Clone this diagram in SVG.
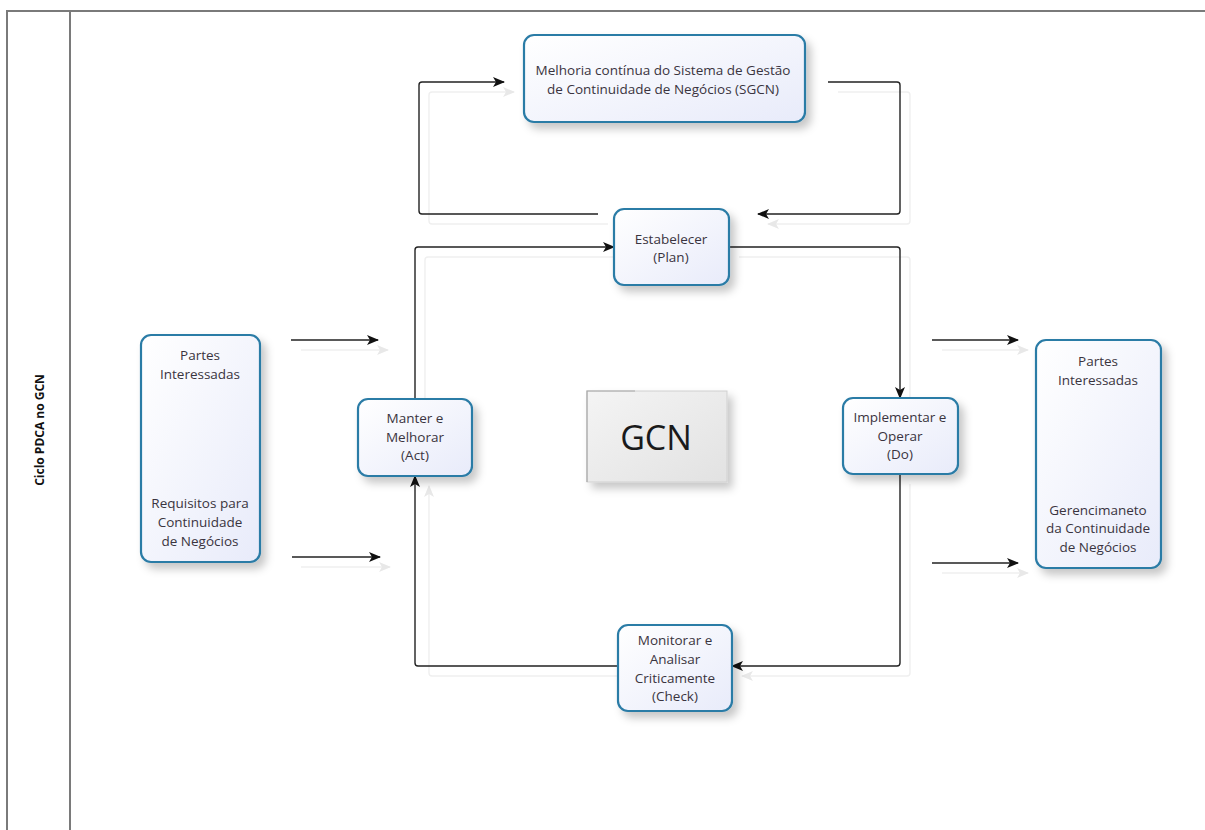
<svg xmlns="http://www.w3.org/2000/svg" width="1205" height="830" viewBox="0 0 1205 830">
<style>
.frame{fill:none;stroke:#7a7a7a;stroke-width:2}
.box{fill:url(#boxg);stroke:#2b7ba6;stroke-width:2.2;filter:url(#sh)}
.t{font-family:"Open Sans","Noto Sans",sans-serif;font-size:13.5px;fill:#3a3440;text-anchor:middle}
.c{fill:none;stroke:#222;stroke-width:1.4}
.s{fill:none;stroke:#efefef;stroke-width:1.4}
.title{font-family:"Open Sans","Noto Sans",sans-serif;font-size:12px;font-weight:bold;fill:#111;text-anchor:middle}
</style>
<defs>
<linearGradient id="boxg" x1="0" y1="0" x2="1" y2="1">
<stop offset="0" stop-color="#ffffff"/>
<stop offset="1" stop-color="#e8ebfa"/>
</linearGradient>
<linearGradient id="gcng" x1="0" y1="0" x2="1" y2="1">
<stop offset="0" stop-color="#f4f4f4"/>
<stop offset="1" stop-color="#e2e2e2"/>
</linearGradient>
<filter id="sh" x="-20%" y="-20%" width="150%" height="150%">
<feDropShadow dx="5" dy="6" stdDeviation="4" flood-color="#000" flood-opacity="0.22"/>
</filter>
<marker id="ah" viewBox="0 0 12 10" refX="11" refY="5" markerWidth="12" markerHeight="10" markerUnits="userSpaceOnUse" orient="auto">
<path d="M0,0 L12,5 L0,10 L3,5 z" fill="#111"/>
</marker>
<marker id="ahs" viewBox="0 0 12 10" refX="11" refY="5" markerWidth="12" markerHeight="10" markerUnits="userSpaceOnUse" orient="auto">
<path d="M0,0 L12,5 L0,10 L3,5 z" fill="#e8e8e8"/>
</marker>
</defs>
<rect width="1205" height="830" fill="#fff"/>
<g id="frame">
<path class="frame" d="M7,840 V11 H1215"/>
<line class="frame" x1="70" y1="11" x2="70" y2="840"/>
<text class="title" transform="translate(44,430) rotate(-90)">Ciclo PDCA no GCN</text>
</g>
<g id="connector-shadows">
<path class="s" d="M608,224 H432 q-3,0 -3,-3 V95 q0,-3 3,-3 H514" marker-end="url(#ahs)"/>
<path class="s" d="M838,92 H907 q3,0 3,3 V221 q0,3 -3,3 H768" marker-end="url(#ahs)"/>
<path class="s" d="M739,257 H907 q3,0 3,3 V408"/>
<path class="s" d="M910,484 V673 q0,3 -3,3 H742" marker-end="url(#ahs)"/>
<path class="s" d="M628,676 H432 q-3,0 -3,-3 V486" marker-end="url(#ahs)"/>
<path class="s" d="M425,409 V260 q0,-3 3,-3 H624"/>
<path class="s" d="M301,350 H388" marker-end="url(#ahs)"/>
<path class="s" d="M301,567 H390" marker-end="url(#ahs)"/>
<path class="s" d="M942,350 H1028" marker-end="url(#ahs)"/>
<path class="s" d="M942,573 H1028" marker-end="url(#ahs)"/>
</g>
<g id="connectors">
<path class="c" d="M598,214 H422 q-3,0 -3,-3 V85 q0,-3 3,-3 H504" marker-end="url(#ah)"/>
<path class="c" d="M828,82 H897 q3,0 3,3 V211 q0,3 -3,3 H758" marker-end="url(#ah)"/>
<path class="c" d="M415,399 V250 q0,-3 3,-3 H614" marker-end="url(#ah)"/>
<path class="c" d="M729,247 H897 q3,0 3,3 V398" marker-end="url(#ah)"/>
<path class="c" d="M900,474 V663 q0,3 -3,3 H732" marker-end="url(#ah)"/>
<path class="c" d="M618,666 H418 q-3,0 -3,-3 V476" marker-end="url(#ah)"/>
<path class="c" d="M291,340 H378" marker-end="url(#ah)"/>
<path class="c" d="M292,557 H380" marker-end="url(#ah)"/>
<path class="c" d="M932,340 H1018" marker-end="url(#ah)"/>
<path class="c" d="M932,563 H1018" marker-end="url(#ah)"/>
</g>
<g id="melhoria">
<rect class="box" x="524" y="35" width="281" height="87" rx="10"/>
<text class="t" x="663" y="75">Melhoria contínua do Sistema de Gestão</text>
<text class="t" x="663" y="94">de Continuidade de Negócios (SGCN)</text>
</g>
<g id="estabelecer">
<rect class="box" x="614" y="209" width="115" height="76" rx="10"/>
<text class="t" x="671" y="244">Estabelecer</text>
<text class="t" x="671" y="262">(Plan)</text>
</g>
<g id="manter">
<rect class="box" x="358" y="399" width="114" height="77" rx="10"/>
<text class="t" x="415" y="423">Manter e</text>
<text class="t" x="415" y="442">Melhorar</text>
<text class="t" x="415" y="460">(Act)</text>
</g>
<g id="gcn">
<rect x="587" y="391" width="140" height="91" fill="url(#gcng)" stroke="#d0d0d0" stroke-width="1" filter="url(#sh)"/>
<path d="M587,482 V391 H635" fill="none" stroke="#a8a8a8" stroke-width="1.2"/>
<text x="656" y="450" font-family="'Open Sans','Noto Sans',sans-serif" font-size="34" fill="#1a1a1a" text-anchor="middle">GCN</text>
</g>
<g id="implementar">
<rect class="box" x="843" y="398" width="115" height="76" rx="10"/>
<text class="t" x="900" y="422">Implementar e</text>
<text class="t" x="900" y="441">Operar</text>
<text class="t" x="900" y="459">(Do)</text>
</g>
<g id="monitorar">
<rect class="box" x="618" y="625" width="114" height="86" rx="10"/>
<text class="t" x="675" y="645">Monitorar e</text>
<text class="t" x="675" y="664">Analisar</text>
<text class="t" x="675" y="683">Criticamente</text>
<text class="t" x="675" y="701">(Check)</text>
</g>
<g id="partes-esq">
<rect class="box" x="141" y="335" width="119" height="227" rx="10"/>
<text class="t" x="200" y="360">Partes</text>
<text class="t" x="200" y="379">Interessadas</text>
<text class="t" x="200" y="508">Requisitos para</text>
<text class="t" x="200" y="527">Continuidade</text>
<text class="t" x="200" y="546">de Negócios</text>
</g>
<g id="partes-dir">
<rect class="box" x="1036" y="340" width="125" height="228" rx="10"/>
<text class="t" x="1098" y="366">Partes</text>
<text class="t" x="1098" y="385">Interessadas</text>
<text class="t" x="1098" y="515">Gerencimaneto</text>
<text class="t" x="1098" y="533">da Continuidade</text>
<text class="t" x="1098" y="552">de Negócios</text>
</g>
</svg>
